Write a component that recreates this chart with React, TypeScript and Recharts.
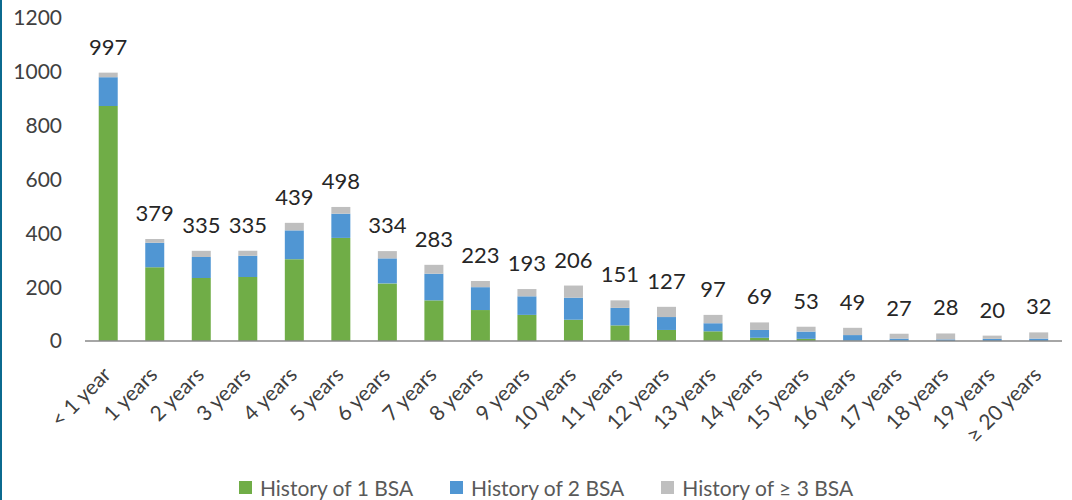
import React from 'react';
import { BarChart, Bar, XAxis, YAxis, Legend, LabelList } from 'recharts';

const categories = ['< 1 year', '1 years', '2 years', '3 years', '4 years', '5 years', '6 years', '7 years', '8 years', '9 years', '10 years', '11 years', '12 years', '13 years', '14 years', '15 years', '16 years', '17 years', '18 years', '19 years', '≥ 20 years'];
const history1 = [873, 274, 234, 238, 304, 383, 214, 151, 115, 97, 79, 58, 41, 36, 12, 8, 1, 1, 0, 0, 0];
const history2 = [107, 91, 78, 79, 107, 90, 93, 99, 85, 69, 82, 65, 48, 30, 29, 27, 21, 8, 6, 8, 9];
const history3 = [17, 14, 23, 18, 28, 25, 27, 33, 23, 27, 45, 28, 38, 31, 28, 18, 27, 18, 22, 12, 23];
const totals = [997, 379, 335, 335, 439, 498, 334, 283, 223, 193, 206, 151, 127, 97, 69, 53, 49, 27, 28, 20, 32];
const yTicks = [0, 200, 400, 600, 800, 1000, 1200];
const seriesNames = ['History of 1 BSA', 'History of 2 BSA', 'History of ≥ 3 BSA'];
const seriesColors = ['#70ad47', '#5096d3', '#bfbfbf'];

const data = categories.map((c, i) => ({
  name: c,
  h1: history1[i],
  h2: history2[i],
  h3: history3[i],
  total: totals[i],
}));

const FONT = 'Lato, "Open Sans", sans-serif';

const XTick = (props: any) => {
  const { x, y, payload } = props;
  return (
    <g transform={`translate(${x + 4},${y + 27})`}>
      <text
        x={0}
        y={0}
        textAnchor="end"
        transform="rotate(-45)"
        fill="#404040"
        fontSize={21}
        fontFamily={FONT}
      >
        {payload.value}
      </text>
    </g>
  );
};

const LegendContent = () => (
  <div
    style={{
      display: 'flex',
      justifyContent: 'center',
      alignItems: 'center',
      fontFamily: FONT,
      fontSize: 21,
      color: '#595959',
      paddingLeft: 30,
      marginTop: 15,
    }}
  >
    {seriesNames.map((n, i) => (
      <div key={n} style={{ display: 'flex', alignItems: 'center', marginRight: i < 2 ? 37 : 0 }}>
        <span style={{ display: 'inline-block', width: 13, height: 13, background: seriesColors[i], marginRight: 8 }} />
        <span>{n}</span>
      </div>
    ))}
  </div>
);

export default function App() {
  return (
    <div style={{ position: 'absolute', left: 0, top: 0, width: 1072, height: 500, background: '#fff' }}>
      <BarChart
        width={1072}
        height={500}
        data={data}
        margin={{ top: 18, right: 10, left: 0, bottom: 0 }}
        barCategoryGap="29.5%"
      >
        <YAxis
          width={85}
          domain={[0, 1200]}
          ticks={yTicks}
          axisLine={false}
          tickLine={false}
          tickSize={0}
          tickMargin={23}
          tick={{ fill: '#404040', fontSize: 21, fontFamily: FONT }}
        />
        <XAxis
          dataKey="name"
          height={119}
          interval={0}
          tickLine={false}
          axisLine={{ stroke: '#898989', strokeWidth: 1.5 }}
          tick={<XTick />}
        />
        <Legend verticalAlign="bottom" height={40} content={<LegendContent />} />
        <Bar dataKey="h1" stackId="a" fill={seriesColors[0]} isAnimationActive={false} />
        <Bar dataKey="h2" stackId="a" fill={seriesColors[1]} isAnimationActive={false} />
        <Bar dataKey="h3" stackId="a" fill={seriesColors[2]} isAnimationActive={false}>
          <LabelList
            dataKey="total"
            position="top"
            offset={18}
            fill="#262626"
            fontSize={22}
            fontFamily={FONT}
          />
        </Bar>
      </BarChart>
      <div style={{ position: 'absolute', left: 0, top: 0, width: 2, height: 500, background: '#0b6a8f' }} />
    </div>
  );
}
